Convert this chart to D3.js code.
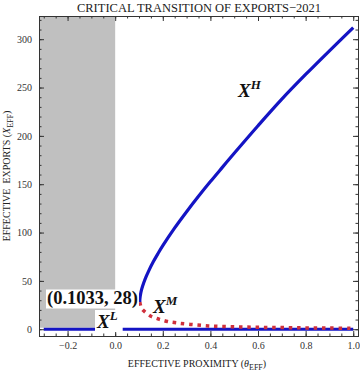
<!DOCTYPE html>
<html><head><meta charset="utf-8">
<script src="https://cdn.jsdelivr.net/npm/d3@7"></script>
<style>body{margin:0;background:#fff}svg{display:block}</style>
</head><body><svg id="c" width="360" height="372"></svg>
<script>
const thetaH = [0.1033,0.1035,0.104,0.105,0.107,0.11,0.115,0.12,0.13,0.14,0.16,0.18,0.2,0.25,0.3,0.35,0.4,0.45,0.5,0.6,0.7,0.8,0.9,1.0];
const valuesH = [28,29.9,31.6,33.8,36.7,40.1,44.4,48.1,54.4,59.9,69.7,78.3,86.4,104.8,121.6,137.5,152.7,167.4,182,210.5,238,263.5,288,312];
const thetaM = [0.1033,0.106,0.11,0.12,0.135,0.15,0.17,0.19,0.22,0.26,0.316,0.4,0.5,0.6,0.7,0.8,0.9,1.0];
const valuesM = [28,25,22,19,16,13.5,11.5,10,8,6.5,5,3.3,2.5,2.0,1.7,1.4,1.2,1.0];
const thetaL = [-0.3,1.0];
const valuesL = [0,0];
const xTicks = [-0.2,0,0.2,0.4,0.6,0.8,1.0];
const yTicks = [0,50,100,150,200,250,300];
const shadeRange = [-0.32,0];
const title = "CRITICAL TRANSITION OF EXPORTS\u22122021";
const fold = {theta:0.1033, value:28, label:"(0.1033, 28)"};

const svg = d3.select("#c");
const L=39,R=358,T=16,B=336;
const x = d3.scaleLinear().domain([-0.32,1.02]).range([L,R]);
const y = d3.scaleLinear().domain([-7,324]).range([B,T]);
const serif = "'Liberation Serif','Times New Roman',serif";

// shaded region
svg.append("rect").attr("x",x(shadeRange[0])).attr("y",y(324)).attr("width",x(shadeRange[1])-x(shadeRange[0])).attr("height",y(0)-y(324)-1.5).attr("fill","#c0c0c0");

const blue="#1414c4", red="#d0303c";
const cr = d3.line().curve(d3.curveCatmullRom.alpha(0.5));
svg.append("path").attr("d",d3.line()(thetaL.map((t,i)=>[x(t),y(valuesL[i])]))).attr("fill","none").attr("stroke",blue).attr("stroke-width",3.2);
svg.append("path").attr("d",cr(thetaH.map((t,i)=>[x(t),y(valuesH[i])]))).attr("fill","none").attr("stroke",blue).attr("stroke-width",3.2);
svg.append("path").attr("d",cr(thetaM.map((t,i)=>[x(t),y(valuesM[i])]))).attr("fill","none").attr("stroke",red).attr("stroke-width",3.5).attr("stroke-dasharray","3.5 4.8");

// axes (ticks inward)
function styleAxis(g){g.select(".domain").attr("stroke","#333");g.selectAll(".tick line").attr("stroke","#333");g.selectAll("text").attr("font-family",serif).attr("font-size",10).attr("fill","#333");}
const xMinor = d3.range(-0.3,1.0001,0.05).map(v=>+v.toFixed(2));
const yMinor = d3.range(0,321,10);
const fmtX = d3.format(".1f");
svg.append("g").attr("transform",`translate(0,${B})`).call(d3.axisBottom(x).tickValues(xMinor).tickSize(-2.5).tickFormat("")).call(styleAxis);
svg.append("g").attr("transform",`translate(0,${B})`).call(d3.axisBottom(x).tickValues(xTicks).tickSize(-5).tickPadding(6).tickFormat(fmtX)).call(styleAxis);
svg.append("g").attr("transform",`translate(0,${T})`).call(d3.axisTop(x).tickValues(xMinor).tickSize(-2.5).tickFormat("")).call(styleAxis);
svg.append("g").attr("transform",`translate(0,${T})`).call(d3.axisTop(x).tickValues(xTicks).tickSize(-5).tickFormat("")).call(styleAxis);
svg.append("g").attr("transform",`translate(${L},0)`).call(d3.axisLeft(y).tickValues(yMinor).tickSize(-2.5).tickFormat("")).call(styleAxis);
svg.append("g").attr("transform",`translate(${L},0)`).call(d3.axisLeft(y).tickValues(yTicks).tickSize(-5).tickPadding(7)).call(styleAxis);
svg.append("g").attr("transform",`translate(${R},0)`).call(d3.axisRight(y).tickValues(yMinor).tickSize(-2.5).tickFormat("")).call(styleAxis);
svg.append("g").attr("transform",`translate(${R},0)`).call(d3.axisRight(y).tickValues(yTicks).tickSize(-5).tickFormat("")).call(styleAxis);

// title and axis labels
svg.append("text").attr("x",199).attr("y",12).attr("text-anchor","middle").attr("font-family",serif).attr("font-size",12.5).attr("fill","#222").text(title);
const xl = svg.append("text").attr("x",197).attr("y",367).attr("text-anchor","middle").attr("font-family",serif).attr("font-size",10).attr("fill","#222");
xl.append("tspan").text("EFFECTIVE PROXIMITY (");
xl.append("tspan").attr("font-style","italic").text("\u03b8");
xl.append("tspan").attr("font-size",8).attr("dy",2.5).text("EFF");
xl.append("tspan").attr("dy",-2.5).text(")");
const yl = svg.append("text").attr("transform",`translate(10,176) rotate(-90)`).attr("text-anchor","middle").attr("font-family",serif).attr("font-size",10).attr("fill","#222");
yl.append("tspan").text("EFFECTIVE\u00a0\u00a0EXPORTS (");
yl.append("tspan").attr("font-style","italic").text("X");
yl.append("tspan").attr("font-size",8).attr("dy",2.5).text("EFF");
yl.append("tspan").attr("dy",-2.5).text(")");

// labels with white backgrounds
function boxed(px,py,build,padR){
  const g=svg.append("g");
  const r=g.append("rect").attr("fill","#fff");
  const t=g.append("text").attr("x",px).attr("y",py).attr("font-family",serif).attr("fill","#111");
  build(t);
  const bb=t.node().getBBox();
  r.attr("x",bb.x-1).attr("y",bb.y+2).attr("width",bb.width+2+(padR||0)).attr("height",bb.height-2);
  return g;
}
boxed(47,303.5,t=>t.attr("font-size",18.5).attr("font-weight","bold").text(fold.label));
function xlab(px,py,sup,bg){
  const f=t=>{t.attr("font-size",19).attr("font-weight","bold").attr("font-style","italic");
    t.append("tspan").text("X"); t.append("tspan").attr("font-size",13).attr("dy",-8).text(sup);};
  if(bg) return boxed(px,py,f,4);
  const t=svg.append("text").attr("x",px).attr("y",py).attr("font-family",serif).attr("fill","#111"); f(t);
}
xlab(97,328,"L",true);
xlab(153,313,"M",false);
xlab(238,97,"H",false);
</script></body></html>
